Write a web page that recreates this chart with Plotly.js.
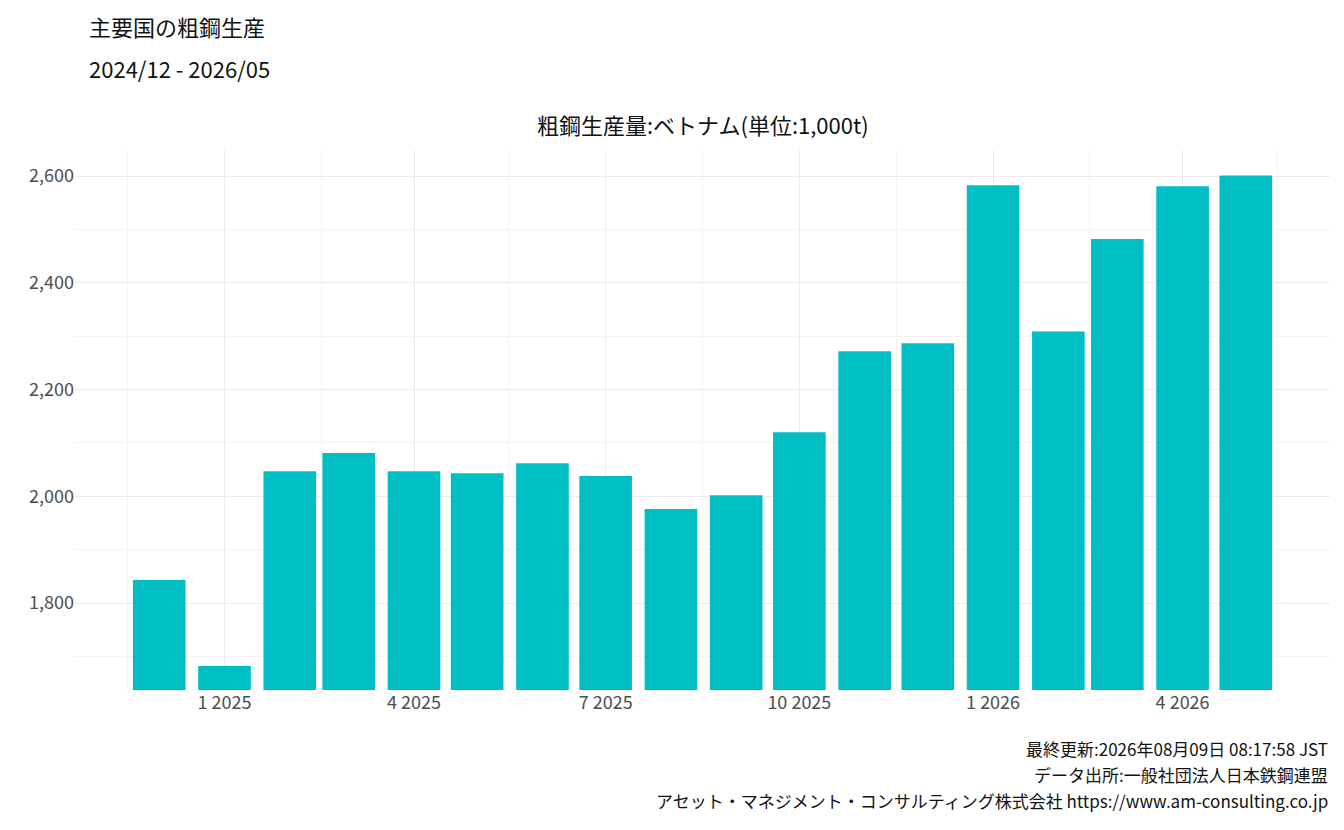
<!DOCTYPE html>
<html>
<head>
<meta charset="utf-8">
<script src="https://cdn.plot.ly/plotly-3.0.1.min.js"></script>
<style>body{margin:0;background:#fff}#chart{width:1344px;height:830px}</style>
</head>
<body>
<div id="chart"></div>
<script>
// Monthly crude steel output, Vietnam (1,000t)
const months = ['2024-12-01','2025-01-01','2025-02-01','2025-03-01','2025-04-01','2025-05-01',
  '2025-06-01','2025-07-01','2025-08-01','2025-09-01','2025-10-01','2025-11-01',
  '2025-12-01','2026-01-01','2026-02-01','2026-03-01','2026-04-01','2026-05-01'];
const output = [1843, 1682, 2047, 2081, 2047, 2043, 2062, 2038, 1976, 2002, 2120, 2272,
  2287, 2583, 2309, 2482, 2581, 2601];

const font = '"Noto Sans CJK JP", "Noto Sans", sans-serif';
const day = 86400000;

const data = [{
  type: 'bar',
  x: months,
  y: output,
  width: months.map(() => 25 * day),
  marker: {color: '#00BFC4'},
  hoverinfo: 'x+y'
}];

const layout = {
  width: 1344, height: 830,
  margin: {l: 75, r: 14, t: 150, b: 140},
  paper_bgcolor: 'white', plot_bgcolor: 'white',
  font: {family: font, color: '#222'},
  showlegend: false,
  xaxis: {
    type: 'date',
    range: ['2024-10-22', '2026-06-10'],
    tick0: '2025-01-01', dtick: 'M3', tickformat: '%-m %Y',
    tickfont: {size: 18, color: '#4d4d4d'},
    ticks: '', showline: false, zeroline: false,
    gridcolor: '#ebebeb', gridwidth: 1.3,
    minor: {tick0: '2024-11-16', dtick: 'M3', showgrid: true, gridcolor: '#f3f3f3', gridwidth: 1}
  },
  yaxis: {
    range: [1637, 2649],
    tickvals: [1800, 2000, 2200, 2400, 2600],
    tickformat: ',d',
    tickfont: {size: 18, color: '#4d4d4d'},
    ticks: '', zeroline: false, showline: false,
    gridcolor: '#ebebeb', gridwidth: 1.3,
    minor: {tickvals: [1700, 1900, 2100, 2300, 2500], showgrid: true, gridcolor: '#f3f3f3', gridwidth: 1}
  },
  annotations: [
    {text: '主要国の粗鋼生産', xref: 'paper', yref: 'paper', x: -0.0, y: 1, xanchor: 'left', yanchor: 'top',
     xshift: 12, yshift: 142, showarrow: false, font: {size: 22, color: '#111'}},
    {text: '2024/12 - 2026/05', xref: 'paper', yref: 'paper', x: -0.0, y: 1, xanchor: 'left', yanchor: 'top',
     xshift: 12, yshift: 100, showarrow: false, font: {size: 22, color: '#111'}},
    {text: '粗鋼生産量:ベトナム(単位:1,000t)', xref: 'paper', yref: 'paper', x: 0.5, y: 1, xanchor: 'center', yanchor: 'bottom',
     yshift: 8, showarrow: false, font: {size: 22, color: '#111'}},
    {text: '最終更新:2026年08月09日 08:17:58 JST', xref: 'paper', yref: 'paper', x: 1, y: 0, xanchor: 'right', yanchor: 'top',
     yshift: -44, showarrow: false, font: {size: 17, color: '#111'}},
    {text: 'データ出所:一般社団法人日本鉄鋼連盟', xref: 'paper', yref: 'paper', x: 1, y: 0, xanchor: 'right', yanchor: 'top',
     yshift: -70, showarrow: false, font: {size: 17, color: '#111'}},
    {text: 'アセット・マネジメント・コンサルティング株式会社 https://www.am-consulting.co.jp', xref: 'paper', yref: 'paper', x: 1, y: 0, xanchor: 'right', yanchor: 'top',
     yshift: -96, showarrow: false, font: {size: 17, color: '#111'}}
  ]
};

Plotly.newPlot('chart', data, layout, {displayModeBar: false});
</script>
</body>
</html>
